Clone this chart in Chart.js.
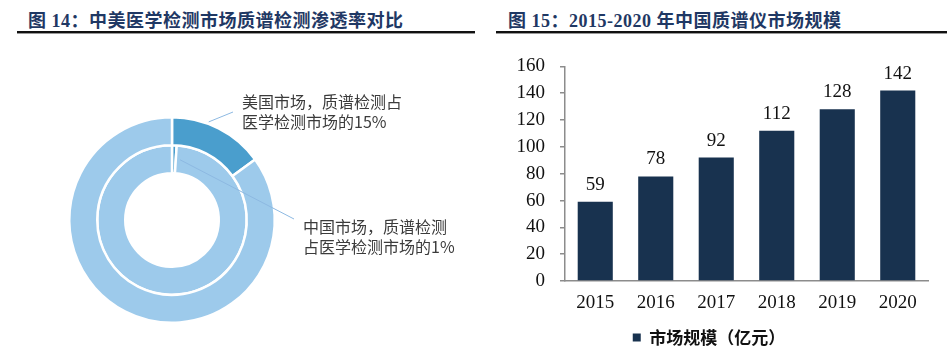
<!DOCTYPE html>
<html>
<head>
<meta charset="utf-8">
<script src="https://cdn.jsdelivr.net/npm/chart.js@4.4.1/dist/chart.umd.min.js"></script>
<style>
  html, body { margin: 0; padding: 0; background: #fff; }
  body { width: 947px; height: 346px; position: relative; overflow: hidden; }
  .title {
    position: absolute; top: 6px; line-height: 20px;
    font: bold 18px "Liberation Serif", "Noto Sans CJK SC", serif;
    color: #1f3864; white-space: nowrap; letter-spacing: 0.5px;
  }
  .rule { position: absolute; top: 31px; height: 2px; background: #111; border-bottom: 1px solid #999; }
  #pieChart { position: absolute; left: 0; top: 40px; }
  #barChart { position: absolute; left: 490px; top: 40px; }
</style>
</head>
<body>
<div class="title" style="left:28px">图 14：中美医学检测市场质谱检测渗透率对比</div>
<div class="rule" style="left:17px; width:458px"></div>
<div class="title" style="left:508px">图 15：2015-2020 年中国质谱仪市场规模</div>
<div class="rule" style="left:496px; width:451px"></div>

<canvas id="pieChart" width="480" height="306"></canvas>
<canvas id="barChart" width="457" height="330"></canvas>

<script>
// 质谱检测占医学检测市场比例（%）
const pieLabels = ['质谱检测', '其他医学检测'];
const usShare = [15, 85];
const cnShare = [1, 99];

// 中国质谱仪市场规模（亿元）
const years = ['2015', '2016', '2017', '2018', '2019', '2020'];
const marketSize = [59, 78, 92, 112, 128, 142];
const yMin = 0;
const yMax = 160;
const yStep = 20;

const usNote = ['美国市场，质谱检测占', '医学检测市场的' + usShare[0] + '%'];
const cnNote = ['中国市场，质谱检测', '占医学检测市场的' + cnShare[0] + '%'];

const darkBlue = '#4a9ecd';
const lightBlue = '#9dcaeb';
const navy = '#18324f';
const axisGrey = '#8c8c8c';
const serif = 'Liberation Serif';

// 引线 + 说明文字
const callouts = {
  id: 'callouts',
  afterDatasetsDraw(chart) {
    const ctx = chart.ctx;
    const us = chart.getDatasetMeta(0).data[0];
    const cn = chart.getDatasetMeta(1).data[0];
    const cx = us.x, cy = us.y;

    const a1 = us.startAngle + 0.38 * (us.endAngle - us.startAngle);
    const r1 = us.outerRadius + 2;
    const a2 = cn.endAngle + 0.07;
    const r2 = (cn.innerRadius + cn.outerRadius) / 2;

    ctx.save();
    ctx.strokeStyle = '#8db9e2';
    ctx.lineWidth = 1;
    ctx.beginPath();
    ctx.moveTo(cx + r1 * Math.cos(a1), cy + r1 * Math.sin(a1));
    ctx.lineTo(cx + 61, cy - 108);
    ctx.moveTo(cx + r2 * Math.cos(a2), cy + r2 * Math.sin(a2));
    ctx.lineTo(cx + 122, cy - 1);
    ctx.stroke();

    ctx.font = '16px "Noto Sans CJK SC"';
    ctx.fillStyle = '#3b3b3b';
    ctx.textAlign = 'left';
    ctx.textBaseline = 'middle';
    usNote.forEach((t, i) => ctx.fillText(t, cx + 70, cy - 118 + i * 19.5));
    cnNote.forEach((t, i) => ctx.fillText(t, cx + 131, cy + 7 + i * 19.5));
    ctx.restore();
  }
};

new Chart(document.getElementById('pieChart'), {
  type: 'doughnut',
  data: {
    labels: pieLabels,
    datasets: [
      { data: usShare, backgroundColor: [darkBlue, lightBlue], borderColor: '#fff', borderWidth: 2.5 },
      { data: cnShare, backgroundColor: [darkBlue, lightBlue], borderColor: '#fff', borderWidth: 2.5 }
    ]
  },
  options: {
    responsive: false,
    animation: false,
    cutout: '45.5%',
    layout: { padding: { left: 68, right: 204, top: 76, bottom: 22 } },
    plugins: { legend: { display: false }, tooltip: { enabled: false } }
  },
  plugins: [callouts]
});

// 柱顶数值
const valueLabels = {
  id: 'valueLabels',
  afterDatasetsDraw(chart) {
    const ctx = chart.ctx;
    const meta = chart.getDatasetMeta(0);
    ctx.save();
    ctx.font = '19px "' + serif + '"';
    ctx.fillStyle = '#111';
    ctx.textAlign = 'center';
    ctx.textBaseline = 'middle';
    meta.data.forEach((bar, i) => {
      ctx.fillText(String(marketSize[i]), bar.x, bar.y - 17);
    });
    ctx.restore();
  }
};

new Chart(document.getElementById('barChart'), {
  type: 'bar',
  data: {
    labels: years,
    datasets: [{
      label: '市场规模（亿元）',
      data: marketSize,
      backgroundColor: navy,
      categoryPercentage: 1,
      barPercentage: 0.58
    }]
  },
  options: {
    responsive: false,
    animation: false,
    layout: { padding: { left: 0, right: 19, top: 22, bottom: 14 } },
    scales: {
      x: {
        grid: { display: false, drawTicks: false },
        border: { color: axisGrey, width: 1.5 },
        ticks: { color: '#111', font: { family: serif, size: 19 }, padding: 11 },
        afterFit: s => { s.height = 44; }
      },
      y: {
        min: yMin,
        max: yMax,
        ticks: { stepSize: yStep, color: '#111', font: { family: serif, size: 19 }, padding: 15 },
        grid: { drawOnChartArea: false, tickLength: 5, color: axisGrey, lineWidth: 1.5 },
        border: { color: axisGrey, width: 1.5 },
        afterFit: s => { s.width = 75; }
      }
    },
    plugins: {
      legend: {
        position: 'bottom',
        labels: {
          boxWidth: 8,
          boxHeight: 8,
          padding: 4,
          color: '#111',
          font: { family: 'Noto Sans CJK SC', size: 17, weight: 'bold' }
        }
      },
      tooltip: { enabled: false }
    }
  },
  plugins: [valueLabels]
});
</script>
</body>
</html>
